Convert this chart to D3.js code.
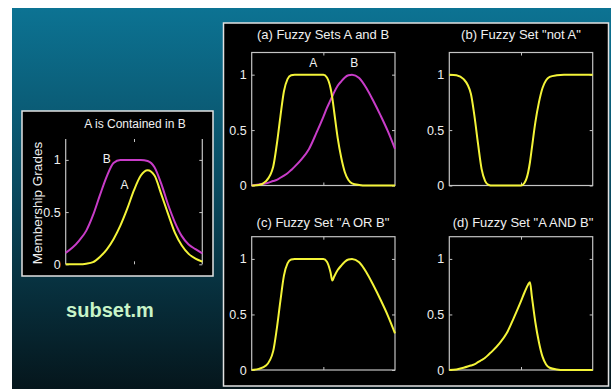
<!DOCTYPE html>
<html><head><meta charset="utf-8">
<script src="https://cdn.jsdelivr.net/npm/d3@7"></script>
<style>
html,body{margin:0;padding:0;background:#fff;}
text{font-family:"Liberation Sans Narrow","Arial Narrow","Liberation Sans",Arial,sans-serif;}
</style></head>
<body><svg id="c" width="611" height="389"></svg>
<script>
// ---- data ----
const X = [0, 0.5, 1, 1.5, 1.75, 2, 2.25, 2.5, 2.75, 3, 3.5, 4, 4.5, 5, 5.25, 5.5, 5.625, 5.75, 6, 6.25, 6.5, 6.75, 7, 7.5, 8, 8.5, 9, 9.5, 10];
const setA = [0, 0.005, 0.04, 0.17, 0.37, 0.62, 0.85, 0.96, 0.995, 1, 1, 1, 1, 1, 0.975, 0.88, 0.79, 0.67, 0.43, 0.25, 0.12, 0.05, 0.02, 0.005, 0, 0, 0, 0, 0];
const setB = [0, 0.01, 0.02, 0.04, 0.05, 0.07, 0.09, 0.11, 0.14, 0.17, 0.24, 0.33, 0.47, 0.62, 0.7, 0.77, 0.805, 0.84, 0.9, 0.94, 0.975, 0.995, 1.0, 0.97, 0.88, 0.76, 0.63, 0.49, 0.33];
const notA = [1, 0.995, 0.96, 0.83, 0.63, 0.38, 0.15, 0.04, 0.005, 0, 0, 0, 0, 0, 0.025, 0.12, 0.21, 0.33, 0.57, 0.75, 0.88, 0.95, 0.98, 0.995, 1, 1, 1, 1, 1];
const aOrB = [0, 0.01, 0.04, 0.17, 0.37, 0.62, 0.85, 0.96, 0.995, 1, 1, 1, 1, 1, 0.975, 0.88, 0.805, 0.84, 0.9, 0.94, 0.975, 0.995, 1.0, 0.97, 0.88, 0.76, 0.63, 0.49, 0.33];
const aAndB = [0, 0.005, 0.02, 0.04, 0.05, 0.07, 0.09, 0.11, 0.14, 0.17, 0.24, 0.33, 0.47, 0.62, 0.7, 0.77, 0.79, 0.67, 0.43, 0.25, 0.12, 0.05, 0.02, 0.005, 0, 0, 0, 0, 0];

const XL = [0, 0.5, 1, 1.5, 2, 2.5, 3, 3.5, 4, 4.5, 5, 5.5, 6, 6.5, 7, 7.5, 8, 8.5, 9, 9.5, 10];
const subA = [0, 0, 0, 0.005, 0.02, 0.07, 0.14, 0.24, 0.37, 0.53, 0.71, 0.85, 0.9, 0.85, 0.67, 0.48, 0.3, 0.18, 0.1, 0.055, 0.026];
const subB = [0.11, 0.16, 0.23, 0.32, 0.47, 0.66, 0.84, 0.97, 1, 1, 1, 1, 0.99, 0.93, 0.77, 0.57, 0.4, 0.27, 0.19, 0.145, 0.105];

const yTicks = [0, 0.5, 1];
const xTicks = [5];
const titles = ['(a) Fuzzy Sets A and B', '(b) Fuzzy Set "not A"', '(c) Fuzzy Set "A OR B"', '(d) Fuzzy Set "A AND B"'];
const leftTitle = 'A is Contained in B';
const leftYLabel = 'Membership Grades';

const YEL = '#f4f438', MAG = '#c83cc8', AX = '#c4c4c4';

const svg = d3.select('#c');
const defs = svg.append('defs');
const g = defs.append('linearGradient').attr('id', 'bg').attr('x1', 0).attr('y1', 0).attr('x2', 0).attr('y2', 1);
g.append('stop').attr('offset', '0%').attr('stop-color', '#0c7393');
g.append('stop').attr('offset', '45%').attr('stop-color', '#0a4c62');
g.append('stop').attr('offset', '100%').attr('stop-color', '#05161c');

svg.append('rect').attr('width', 611).attr('height', 389).attr('fill', '#fff');
svg.append('rect').attr('x', 12).attr('y', 8).attr('width', 599).attr('height', 381).attr('fill', 'url(#bg)');

// boxes
svg.append('rect').attr('x', 22).attr('y', 111).attr('width', 191).attr('height', 165)
  .attr('fill', '#000').attr('stroke', '#e2e2e2').attr('stroke-width', 1.5);
svg.append('rect').attr('x', 223.5).attr('y', 23).attr('width', 385).attr('height', 363)
  .attr('fill', '#000').attr('stroke', '#e2e2e2').attr('stroke-width', 1.5);

svg.append('text').attr('x', 110).attr('y', 317).attr('text-anchor', 'middle')
  .style('font-family', '"Liberation Sans",Arial,sans-serif').style('font-weight', 'bold')
  .style('font-size', '20px').attr('fill', '#c8f4c8').text('subset.m');

function panel(opt) {
  const x = d3.scaleLinear().domain([0, 10]).range([opt.x0, opt.x1]);
  const y = d3.scaleLinear().domain([0, 1.2]).range([opt.y0, opt.y1]);
  const p = svg.append('g');
  if (opt.full) {
    p.append('rect').attr('x', opt.x0).attr('y', opt.y1).attr('width', opt.x1 - opt.x0).attr('height', opt.y0 - opt.y1)
      .attr('fill', 'none').attr('stroke', AX).attr('stroke-width', 1.2);
  } else {
    p.append('line').attr('x1', opt.x0).attr('x2', opt.x0).attr('y1', opt.y0).attr('y2', opt.y1).attr('stroke', AX).attr('stroke-width', 1.2);
    p.append('line').attr('x1', opt.x1).attr('x2', opt.x1).attr('y1', opt.y0).attr('y2', opt.y1).attr('stroke', AX).attr('stroke-width', 1.2);
  }
  const styleAxis = sel => {
    sel.select('.domain').remove();
    sel.selectAll('line').attr('stroke', AX).attr('stroke-width', 1);
    sel.selectAll('text').attr('fill', '#f0f0f0').style('font-size', '12.5px');
  };
  p.append('g').attr('transform', `translate(${opt.x0},0)`)
    .call(d3.axisLeft(y).tickValues(yTicks).tickSize(-3).tickPadding(5).tickFormat(d3.format('~g'))).call(styleAxis);
  p.append('g').attr('transform', `translate(${opt.x1},0)`)
    .call(d3.axisRight(y).tickValues(yTicks).tickSize(-3).tickFormat('')).call(styleAxis);
  p.append('g').attr('transform', `translate(0,${opt.y0})`)
    .call(d3.axisBottom(x).tickValues(xTicks).tickSize(-3).tickFormat('')).call(styleAxis);
  p.append('g').attr('transform', `translate(0,${opt.y1})`)
    .call(d3.axisTop(x).tickValues(xTicks).tickSize(-3).tickFormat('')).call(styleAxis);
  p.append('text').attr('x', opt.tx).attr('y', opt.ty).attr('text-anchor', 'middle')
    .attr('fill', '#f0f0f0').style('font-size', opt.tfs || '13px').text(opt.title);
  const line = d3.line().curve(d3.curveMonotoneX);
  opt.series.forEach(s => {
    p.append('path').attr('d', line(s.xs.map((v, i) => [x(v), y(s.ys[i])])))
      .attr('fill', 'none').attr('stroke', s.color).attr('stroke-width', 2).attr('stroke-linejoin', 'round');
  });
  return {x, y, p};
}

const PA = panel({x0: 251.7, x1: 395, y0: 185.5, y1: 52.5, full: true, tx: 323, ty: 39, title: titles[0],
  series: [{xs: X, ys: setB, color: MAG}, {xs: X, ys: setA, color: YEL}]});
svg.append('text').attr('x', PA.x(4.3)).attr('y', 67).attr('text-anchor', 'middle').attr('fill', '#f0f0f0').style('font-size', '12px').text('A');
svg.append('text').attr('x', PA.x(7.15)).attr('y', 67).attr('text-anchor', 'middle').attr('fill', '#f0f0f0').style('font-size', '12px').text('B');

panel({x0: 449.3, x1: 592.7, y0: 185.5, y1: 52.5, full: true, tx: 521, ty: 39, title: titles[1],
  series: [{xs: X, ys: notA, color: YEL}]});
panel({x0: 251.7, x1: 395, y0: 370, y1: 236.7, full: true, tx: 323, ty: 227, title: titles[2],
  series: [{xs: X, ys: aOrB, color: YEL}]});
panel({x0: 449.3, x1: 592.7, y0: 370, y1: 236.7, full: true, tx: 523, ty: 227, title: titles[3],
  series: [{xs: X, ys: aAndB, color: YEL}]});

const L = panel({x0: 65.7, x1: 202.3, y0: 264.3, y1: 139, full: false, tx: 135, ty: 128, title: leftTitle, tfs: '12px',
  series: [{xs: XL, ys: subB, color: MAG}, {xs: XL, ys: subA, color: YEL}]});
svg.append('text').attr('transform', 'translate(42,203) rotate(-90)').attr('text-anchor', 'middle')
  .attr('fill', '#f0f0f0').style('font-size', '13.5px').text(leftYLabel);
svg.append('text').attr('x', L.x(3.0)).attr('y', L.y(0.97)).attr('text-anchor', 'middle').attr('fill', '#f0f0f0').style('font-size', '12px').text('B');
svg.append('text').attr('x', L.x(4.3)).attr('y', L.y(0.72)).attr('text-anchor', 'middle').attr('fill', '#f0f0f0').style('font-size', '12px').text('A');
</script></body></html>
